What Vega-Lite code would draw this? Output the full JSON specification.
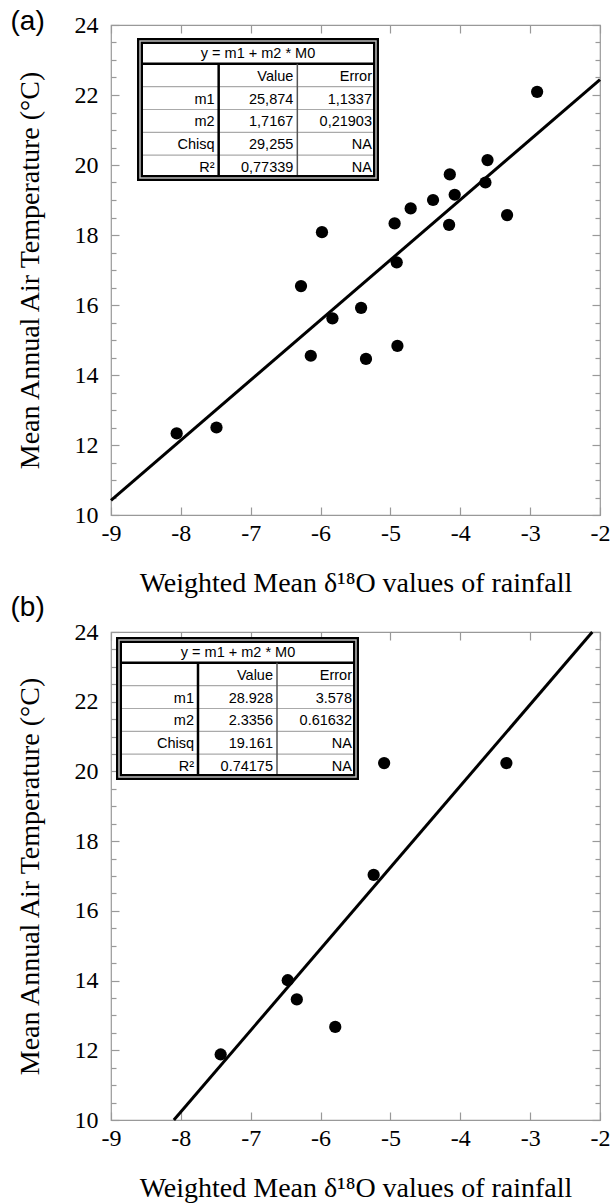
{
  "$schema": "https://vega.github.io/schema/vega-lite/v6.json",
  "padding": {"left": 9, "top": 6, "right": 4, "bottom": 0},
  "bounds": "flush",
  "spacing": 117,
  "config": {
    "view": {"stroke": "#999999", "strokeWidth": 1.2},
    "axis": {
      "domain": false, "grid": false, "tickColor": "#999999", "tickWidth": 1.2,
      "labelFont": "Liberation Serif", "labelFontSize": 24, "labelColor": "black",
      "titleFont": "Liberation Serif", "titleFontSize": 28, "titleFontWeight": "normal", "titleColor": "black",
      "labelFlush": false, "labelOverlap": false
    }
  },
  "datasets": {
    "a_pts": [
      {"d18O": -2.90, "temp": 22.09}, {"d18O": -3.61, "temp": 20.14}, {"d18O": -3.64, "temp": 19.50},
      {"d18O": -4.15, "temp": 19.73}, {"d18O": -4.08, "temp": 19.15}, {"d18O": -4.39, "temp": 19.00},
      {"d18O": -4.71, "temp": 18.76}, {"d18O": -4.94, "temp": 18.33}, {"d18O": -4.16, "temp": 18.29},
      {"d18O": -3.33, "temp": 18.57}, {"d18O": -5.98, "temp": 18.08}, {"d18O": -4.91, "temp": 17.22},
      {"d18O": -6.28, "temp": 16.54}, {"d18O": -5.42, "temp": 15.92}, {"d18O": -5.83, "temp": 15.62},
      {"d18O": -6.14, "temp": 14.55}, {"d18O": -5.35, "temp": 14.46}, {"d18O": -4.90, "temp": 14.83},
      {"d18O": -8.06, "temp": 12.33}, {"d18O": -7.49, "temp": 12.50}
    ],
    "a_fit": [{"d18O": -9, "temp": 10.42}, {"d18O": -2, "temp": 22.44}],
    "b_pts": [
      {"d18O": -5.09, "temp": 20.24}, {"d18O": -3.34, "temp": 20.24}, {"d18O": -5.24, "temp": 17.03},
      {"d18O": -6.47, "temp": 14.01}, {"d18O": -6.34, "temp": 13.46}, {"d18O": -5.79, "temp": 12.67},
      {"d18O": -7.43, "temp": 11.88}
    ],
    "b_fit": [{"d18O": -8.10, "temp": 10}, {"d18O": -2.11, "temp": 24}],
    "a_tab": [
      {"row": "title", "col": "error", "text": "y = m1 + m2 * M0"},
      {"row": "head", "col": "value", "text": "Value"},
      {"row": "head", "col": "error", "text": "Error"},
      {"row": "m1", "col": "label", "text": "m1"},
      {"row": "m1", "col": "value", "text": "25,874"},
      {"row": "m1", "col": "error", "text": "1,1337"},
      {"row": "m2", "col": "label", "text": "m2"},
      {"row": "m2", "col": "value", "text": "1,7167"},
      {"row": "m2", "col": "error", "text": "0,21903"},
      {"row": "Chisq", "col": "label", "text": "Chisq"},
      {"row": "Chisq", "col": "value", "text": "29,255"},
      {"row": "Chisq", "col": "error", "text": "NA"},
      {"row": "R2", "col": "label", "text": "R²"},
      {"row": "R2", "col": "value", "text": "0,77339"},
      {"row": "R2", "col": "error", "text": "NA"}
    ],
    "b_tab": [
      {"row": "title", "col": "error", "text": "y = m1 + m2 * M0"},
      {"row": "head", "col": "value", "text": "Value"},
      {"row": "head", "col": "error", "text": "Error"},
      {"row": "m1", "col": "label", "text": "m1"},
      {"row": "m1", "col": "value", "text": "28.928"},
      {"row": "m1", "col": "error", "text": "3.578"},
      {"row": "m2", "col": "label", "text": "m2"},
      {"row": "m2", "col": "value", "text": "2.3356"},
      {"row": "m2", "col": "error", "text": "0.61632"},
      {"row": "Chisq", "col": "label", "text": "Chisq"},
      {"row": "Chisq", "col": "value", "text": "19.161"},
      {"row": "Chisq", "col": "error", "text": "NA"},
      {"row": "R2", "col": "label", "text": "R²"},
      {"row": "R2", "col": "value", "text": "0.74175"},
      {"row": "R2", "col": "error", "text": "NA"}
    ]
  },
  "vconcat": [
    {
      "width": 489, "height": 490,
      "layer": [
        {
          "layer": [
            {
              "data": {"name": "a_pts"},
              "mark": {"type": "circle", "size": 150, "color": "black", "opacity": 1},
              "encoding": {
                "x": {"field": "d18O", "type": "quantitative", "scale": {"domain": [-9, -2], "nice": false, "zero": false},
                  "axis": {"orient": "bottom", "values": [-9, -8, -7, -6, -5, -4, -3, -2], "tickSize": -8, "labelExpr": "'' + datum.value", "labelPadding": 14, "titlePadding": 24, "title": "Weighted Mean δ¹⁸O values of rainfall"}},
                "y": {"field": "temp", "type": "quantitative", "scale": {"domain": [10, 24], "nice": false, "zero": false},
                  "axis": {"orient": "left", "values": [10, 10.5, 11, 11.5, 12, 12.5, 13, 13.5, 14, 14.5, 15, 15.5, 16, 16.5, 17, 17.5, 18, 18.5, 19, 19.5, 20, 20.5, 21, 21.5, 22, 22.5, 23, 23.5, 24],
                    "tickSize": {"condition": {"test": "datum.value % 2 == 0", "value": -8}, "value": -5},
                    "labelExpr": "datum.value % 2 == 0 ? '' + datum.value : ''", "labelPadding": 21, "titlePadding": 30, "title": "Mean Annual Air Temperature (°C)"}}
              }
            },
            {
              "data": {"name": "a_fit"},
              "mark": {"type": "line", "color": "black", "strokeWidth": 3},
              "encoding": {
                "x": {"field": "d18O", "type": "quantitative", "axis": {"orient": "top", "values": [-9, -8, -7, -6, -5, -4, -3, -2], "tickSize": -8, "labels": false,
                  "title": "(a)", "titleFont": "Liberation Sans", "titleFontSize": 28, "titleAngle": 0, "titleAlign": "left", "titleBaseline": "alphabetic", "titleX": -101, "titleY": 4}},
                "y": {"field": "temp", "type": "quantitative", "axis": {"orient": "right", "values": [10, 10.5, 11, 11.5, 12, 12.5, 13, 13.5, 14, 14.5, 15, 15.5, 16, 16.5, 17, 17.5, 18, 18.5, 19, 19.5, 20, 20.5, 21, 21.5, 22, 22.5, 23, 23.5, 24],
                  "tickSize": {"condition": {"test": "datum.value % 2 == 0", "value": -8}, "value": -5}, "labels": false, "title": null}}
              }
            }
          ],
          "resolve": {"axis": {"x": "independent", "y": "independent"}}
        },
        {
          "data": {"name": "a_tab"},
          "encoding": {
            "x": {"field": "col", "type": "nominal", "scale": {"type": "point", "domain": ["start", "label", "value", "error"], "range": [29, 265], "padding": 0}, "axis": null},
            "y": {"field": "row", "type": "nominal", "scale": {"type": "point", "domain": ["top", "title", "head", "m1", "m2", "Chisq", "R2"], "range": [16, 153], "padding": 0}, "axis": null}
          },
          "layer": [
            {
              "transform": [{"filter": "datum.row == 'title'"}],
              "mark": {"type": "rect", "fill": "white"},
              "encoding": {"x": {"datum": "start"}, "x2": {"datum": "error"}, "y": {"datum": "top"}, "y2": {"datum": "R2"}}
            },
            {
              "transform": [{"filter": "datum.row != 'title' && datum.row != 'R2' && datum.col == 'error'"}],
              "mark": {"type": "rule", "color": "#aaaaaa", "strokeWidth": 1.2},
              "encoding": {"x": {"datum": "start"}, "x2": {"datum": "error"}}
            },
            {
              "transform": [{"filter": "datum.row == 'title'"}],
              "mark": {"type": "rule", "color": "black", "strokeWidth": 2.5},
              "encoding": {"x": {"datum": "start"}, "x2": {"datum": "error"}}
            },
            {
              "transform": [{"filter": "datum.row == 'title'"}],
              "mark": {"type": "rule", "color": "black", "strokeWidth": 2.5},
              "encoding": {"x": {"datum": "label"}, "y": {"datum": "title"}, "y2": {"datum": "R2"}}
            },
            {
              "transform": [{"filter": "datum.row == 'title'"}],
              "mark": {"type": "rule", "color": "#555555", "strokeWidth": 1.5},
              "encoding": {"x": {"datum": "value"}, "y": {"datum": "title"}, "y2": {"datum": "R2"}}
            },
            {
              "transform": [{"filter": "datum.row == 'title'"}],
              "mark": {"type": "rect", "fill": null, "stroke": "black", "strokeWidth": 6},
              "encoding": {"x": {"datum": "start"}, "x2": {"datum": "error"}, "y": {"datum": "top"}, "y2": {"datum": "R2"}}
            },
            {
              "transform": [{"filter": "datum.row == 'title'"}],
              "mark": {"type": "rect", "fill": null, "stroke": "#bbbbbb", "strokeWidth": 1.5},
              "encoding": {"x": {"datum": "start"}, "x2": {"datum": "error"}, "y": {"datum": "top"}, "y2": {"datum": "R2"}}
            },
            {
              "transform": [{"filter": "datum.row != 'title'"}],
              "mark": {"type": "text", "align": "right", "baseline": "alphabetic", "dx": -4, "dy": -6, "font": "Liberation Sans", "fontSize": 14.5, "color": "black"},
              "encoding": {"text": {"field": "text"}}
            },
            {
              "transform": [{"filter": "datum.row == 'title'"}],
              "mark": {"type": "text", "align": "center", "baseline": "alphabetic", "dx": -118, "dy": -6, "font": "Liberation Sans", "fontSize": 14.5, "color": "black"},
              "encoding": {"text": {"field": "text"}}
            }
          ]
        }
      ],
      "resolve": {"scale": {"x": "independent", "y": "independent"}}
    },
    {
      "width": 489, "height": 488,
      "layer": [
        {
          "layer": [
            {
              "data": {"name": "b_pts"},
              "mark": {"type": "circle", "size": 150, "color": "black", "opacity": 1},
              "encoding": {
                "x": {"field": "d18O", "type": "quantitative", "scale": {"domain": [-9, -2], "nice": false, "zero": false},
                  "axis": {"orient": "bottom", "values": [-9, -8, -7, -6, -5, -4, -3, -2], "tickSize": -8, "labelExpr": "'' + datum.value", "labelPadding": 14, "titlePadding": 24, "title": "Weighted Mean δ¹⁸O values of rainfall"}},
                "y": {"field": "temp", "type": "quantitative", "scale": {"domain": [10, 24], "nice": false, "zero": false},
                  "axis": {"orient": "left", "values": [10, 10.5, 11, 11.5, 12, 12.5, 13, 13.5, 14, 14.5, 15, 15.5, 16, 16.5, 17, 17.5, 18, 18.5, 19, 19.5, 20, 20.5, 21, 21.5, 22, 22.5, 23, 23.5, 24],
                    "tickSize": {"condition": {"test": "datum.value % 2 == 0", "value": -8}, "value": -5},
                    "labelExpr": "datum.value % 2 == 0 ? '' + datum.value : ''", "labelPadding": 21, "titlePadding": 30, "title": "Mean Annual Air Temperature (°C)"}}
              }
            },
            {
              "data": {"name": "b_fit"},
              "mark": {"type": "line", "color": "black", "strokeWidth": 3},
              "encoding": {
                "x": {"field": "d18O", "type": "quantitative", "axis": {"orient": "top", "values": [-9, -8, -7, -6, -5, -4, -3, -2], "tickSize": -8, "labels": false,
                  "title": "(b)", "titleFont": "Liberation Sans", "titleFontSize": 28, "titleAngle": 0, "titleAlign": "left", "titleBaseline": "alphabetic", "titleX": -101, "titleY": -17}},
                "y": {"field": "temp", "type": "quantitative", "axis": {"orient": "right", "values": [10, 10.5, 11, 11.5, 12, 12.5, 13, 13.5, 14, 14.5, 15, 15.5, 16, 16.5, 17, 17.5, 18, 18.5, 19, 19.5, 20, 20.5, 21, 21.5, 22, 22.5, 23, 23.5, 24],
                  "tickSize": {"condition": {"test": "datum.value % 2 == 0", "value": -8}, "value": -5}, "labels": false, "title": null}}
              }
            }
          ],
          "resolve": {"axis": {"x": "independent", "y": "independent"}}
        },
        {
          "data": {"name": "b_tab"},
          "encoding": {
            "x": {"field": "col", "type": "nominal", "scale": {"type": "point", "domain": ["start", "label", "value", "error"], "range": [8, 245], "padding": 0}, "axis": null},
            "y": {"field": "row", "type": "nominal", "scale": {"type": "point", "domain": ["top", "title", "head", "m1", "m2", "Chisq", "R2"], "range": [8, 145], "padding": 0}, "axis": null}
          },
          "layer": [
            {
              "transform": [{"filter": "datum.row == 'title'"}],
              "mark": {"type": "rect", "fill": "white"},
              "encoding": {"x": {"datum": "start"}, "x2": {"datum": "error"}, "y": {"datum": "top"}, "y2": {"datum": "R2"}}
            },
            {
              "transform": [{"filter": "datum.row != 'title' && datum.row != 'R2' && datum.col == 'error'"}],
              "mark": {"type": "rule", "color": "#aaaaaa", "strokeWidth": 1.2},
              "encoding": {"x": {"datum": "start"}, "x2": {"datum": "error"}}
            },
            {
              "transform": [{"filter": "datum.row == 'title'"}],
              "mark": {"type": "rule", "color": "black", "strokeWidth": 2.5},
              "encoding": {"x": {"datum": "start"}, "x2": {"datum": "error"}}
            },
            {
              "transform": [{"filter": "datum.row == 'title'"}],
              "mark": {"type": "rule", "color": "black", "strokeWidth": 2.5},
              "encoding": {"x": {"datum": "label"}, "y": {"datum": "title"}, "y2": {"datum": "R2"}}
            },
            {
              "transform": [{"filter": "datum.row == 'title'"}],
              "mark": {"type": "rule", "color": "#555555", "strokeWidth": 1.5},
              "encoding": {"x": {"datum": "value"}, "y": {"datum": "title"}, "y2": {"datum": "R2"}}
            },
            {
              "transform": [{"filter": "datum.row == 'title'"}],
              "mark": {"type": "rect", "fill": null, "stroke": "black", "strokeWidth": 6},
              "encoding": {"x": {"datum": "start"}, "x2": {"datum": "error"}, "y": {"datum": "top"}, "y2": {"datum": "R2"}}
            },
            {
              "transform": [{"filter": "datum.row == 'title'"}],
              "mark": {"type": "rect", "fill": null, "stroke": "#bbbbbb", "strokeWidth": 1.5},
              "encoding": {"x": {"datum": "start"}, "x2": {"datum": "error"}, "y": {"datum": "top"}, "y2": {"datum": "R2"}}
            },
            {
              "transform": [{"filter": "datum.row != 'title'"}],
              "mark": {"type": "text", "align": "right", "baseline": "alphabetic", "dx": -4, "dy": -6, "font": "Liberation Sans", "fontSize": 14.5, "color": "black"},
              "encoding": {"text": {"field": "text"}}
            },
            {
              "transform": [{"filter": "datum.row == 'title'"}],
              "mark": {"type": "text", "align": "center", "baseline": "alphabetic", "dx": -118, "dy": -6, "font": "Liberation Sans", "fontSize": 14.5, "color": "black"},
              "encoding": {"text": {"field": "text"}}
            }
          ]
        }
      ],
      "resolve": {"scale": {"x": "independent", "y": "independent"}}
    }
  ]
}
